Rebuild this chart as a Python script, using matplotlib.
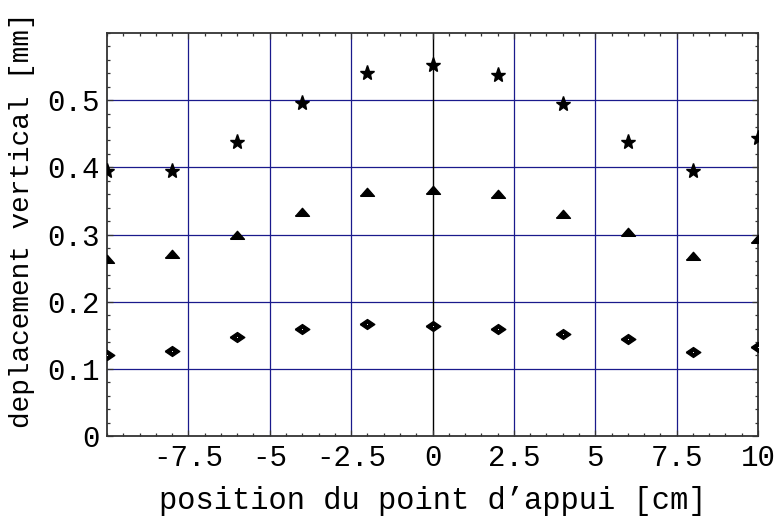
import numpy as np
import matplotlib
matplotlib.use("Agg")
import matplotlib.pyplot as plt
from matplotlib.ticker import MultipleLocator, FixedLocator, FixedFormatter

# positions du point d'appui [cm]
positions = [-10, -8, -6, -4, -2, 0, 2, 4, 6, 8, 10]
# deplacement vertical [mm] pour les trois series
etoiles = [0.395, 0.395, 0.437, 0.496, 0.540, 0.553, 0.537, 0.495, 0.437, 0.395, 0.443]
triangles = [0.263, 0.271, 0.300, 0.333, 0.364, 0.366, 0.360, 0.331, 0.304, 0.268, 0.294]
losanges = [0.120, 0.127, 0.147, 0.160, 0.167, 0.164, 0.159, 0.152, 0.144, 0.125, 0.132]

xticks = [-7.5, -5, -2.5, 0, 2.5, 5, 7.5, 10]
xticklabels = ["-7.5", "-5", "-2.5", "0", "2.5", "5", "7.5", "10"]
yticks = [0, 0.1, 0.2, 0.3, 0.4, 0.5]
yticklabels = ["0", "0.1", "0.2", "0.3", "0.4", "0.5"]

navy = "#1a1a8c"
police = "Liberation Mono"

def main():
    fig = plt.figure(figsize=(7.76, 5.29), dpi=100)
    ax = fig.add_axes([0.1379, 0.1758, 0.8389, 0.7618])
    ax.set_xlim(-10, 10)
    ax.set_ylim(0, 0.6)

    # grille facon Mathematica
    for gx in [-7.5, -5, -2.5, 2.5, 5, 7.5]:
        ax.axvline(gx, color=navy, lw=0.9, zorder=1)
    for gy in [0.1, 0.2, 0.3, 0.4, 0.5]:
        ax.axhline(gy, color=navy, lw=0.9, zorder=1)
    ax.axvline(0, color="black", lw=1.0, zorder=1)

    tri = [(-1, -0.55), (1, -0.55), (0, 0.6), (-1, -0.55)]
    los = [(-1, 0), (0, 0.68), (1, 0), (0, -0.68), (-1, 0)]

    ax.plot(positions, etoiles, ls="none", marker="*", ms=11, color="black", zorder=3)
    ax.plot(positions, triangles, ls="none", marker=tri, ms=10, color="black", zorder=3)
    ax.plot(positions, losanges, ls="none", marker=los, ms=10.5, color="black", zorder=3)
    ax.plot(positions, losanges, ls="none", marker="o", ms=0.8, color="white", mec="none", zorder=4)

    ax.xaxis.set_major_locator(FixedLocator(xticks))
    ax.xaxis.set_major_formatter(FixedFormatter(xticklabels))
    ax.xaxis.set_minor_locator(MultipleLocator(0.5))
    ax.yaxis.set_major_locator(FixedLocator(yticks))
    ax.yaxis.set_major_formatter(FixedFormatter(yticklabels))
    ax.yaxis.set_minor_locator(MultipleLocator(0.02))

    ax.tick_params(which="both", direction="in", top=True, right=True,
                   color="#333333", width=0.9)
    ax.tick_params(which="major", length=4.5, labelsize=21)
    ax.tick_params(which="minor", length=2.5)
    ax.tick_params(axis="x", pad=6)
    ax.tick_params(axis="y", pad=5)
    for lab in ax.get_xticklabels() + ax.get_yticklabels():
        lab.set_family(police)

    for sp in ax.spines.values():
        sp.set_color("#333333")
        sp.set_linewidth(1.3)

    ax.set_xlabel("position du point d\u2019appui [cm]", family=police, fontsize=22, labelpad=10)
    ax.set_ylabel("deplacement vertical [mm]", family=police, fontsize=20, va="center")
    ax.yaxis.set_label_coords(-0.131, 0.536)

    fig.savefig("out.png", dpi=100)

if __name__ == "__main__":
    main()
